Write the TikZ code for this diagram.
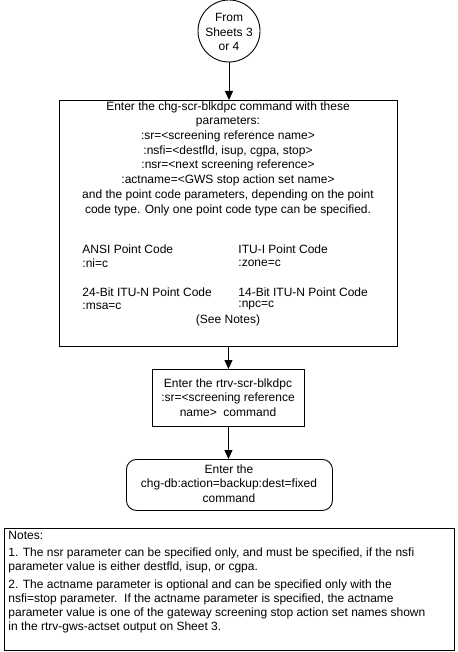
\documentclass[tikz,border=0pt]{standalone}
\usepackage{fontspec}
\setmainfont{Liberation Sans}
\usetikzlibrary{arrows.meta}
\begin{document}
\begin{tikzpicture}[x=1pt,y=-1pt,
  font=\fontsize{12}{14.7}\selectfont,
  line width=0.9pt,
  arr/.style={-{Triangle[length=9pt,width=8pt]}},
  box/.style={draw, inner sep=0pt, anchor=north west},
  txt/.style={inner sep=0pt, align=center},
  ltxt/.style={inner sep=0pt, anchor=west}]
\useasboundingbox (0,0) rectangle (457,652);
% start connector
\node[circle, draw, minimum size=62pt, inner sep=0pt] (start) at (229,31) {};
\node[txt] (starttxt) at (229,32) {From\\Sheets 3\\or 4};
% command box
\node[box, minimum width=338pt, minimum height=246pt] (cmd) at (59,100) {};
\node[txt, anchor=center] (cmdtxt) at (228,158.5) {Enter the chg-scr-blkdpc command with these\\parameters:\\:sr=<screening reference name>\\:nsfi=<destfld, isup, cgpa, stop>\\:nsr=<next screening reference>\\:actname=<GWS stop action set name>\\and the point code parameters, depending on the point\\code type. Only one point code type can be specified.};
\node[ltxt] (ansi) at (82,249) {ANSI Point Code};
\node[ltxt] (ni) at (82,263) {:ni=c};
\node[ltxt] (bit24) at (82,292) {24-Bit ITU-N Point Code};
\node[ltxt] (msa) at (82,306) {:msa=c};
\node[ltxt] (itui) at (238,249) {ITU-I Point Code};
\node[ltxt] (zone) at (238,263) {:zone=c};
\node[ltxt] (bit14) at (238,292) {14-Bit ITU-N Point Code};
\node[ltxt] (npc) at (238,306) {:npc=c};
\node[txt] (see) at (228,320) {(See Notes)};
% rtrv box
\node[box, minimum width=152pt, minimum height=57pt] (rtrv) at (152,369) {};
\node[txt] (rtrvtxt) at (228,397.5) {Enter the rtrv-scr-blkdpc\\:sr=<screening reference\\name>\ \ command};
% chg-db box
\node[box, minimum width=206pt, minimum height=51pt, rounded corners=10pt] (chgdb) at (126,459) {};
\node[txt] (chgdbtxt) at (229,483.5) {Enter the\\chg-db:action=backup:dest=fixed\\command};
% notes
\node[box, minimum width=450pt, minimum height=122pt] (notes) at (4,528) {};
\node[ltxt] (n0) at (8,535) {Notes:};
\node[ltxt] (n1) at (8,553) {1. The nsr parameter can be specified only, and must be specified, if the nsfi};
\node[ltxt] (n2) at (8,567) {parameter value is either destfld, isup, or cgpa.};
\node[ltxt] (n3) at (8,585) {2. The actname parameter is optional and can be specified only with the};
\node[ltxt] (n4) at (8,599) {nsfi=stop parameter.\ \ If the actname parameter is specified, the actname};
\node[ltxt] (n5) at (8,613) {parameter value is one of the gateway screening stop action set names shown};
\node[ltxt] (n6) at (8,627) {in the rtrv-gws-actset output on Sheet 3.};
% connectors
\draw[arr] (start.south) -- (start.south |- cmd.north);
\draw[arr] (cmd.south) -- (rtrv.north);
\draw[arr] (rtrv.south) -- (rtrv.south |- chgdb.north);
\end{tikzpicture}
\end{document}
